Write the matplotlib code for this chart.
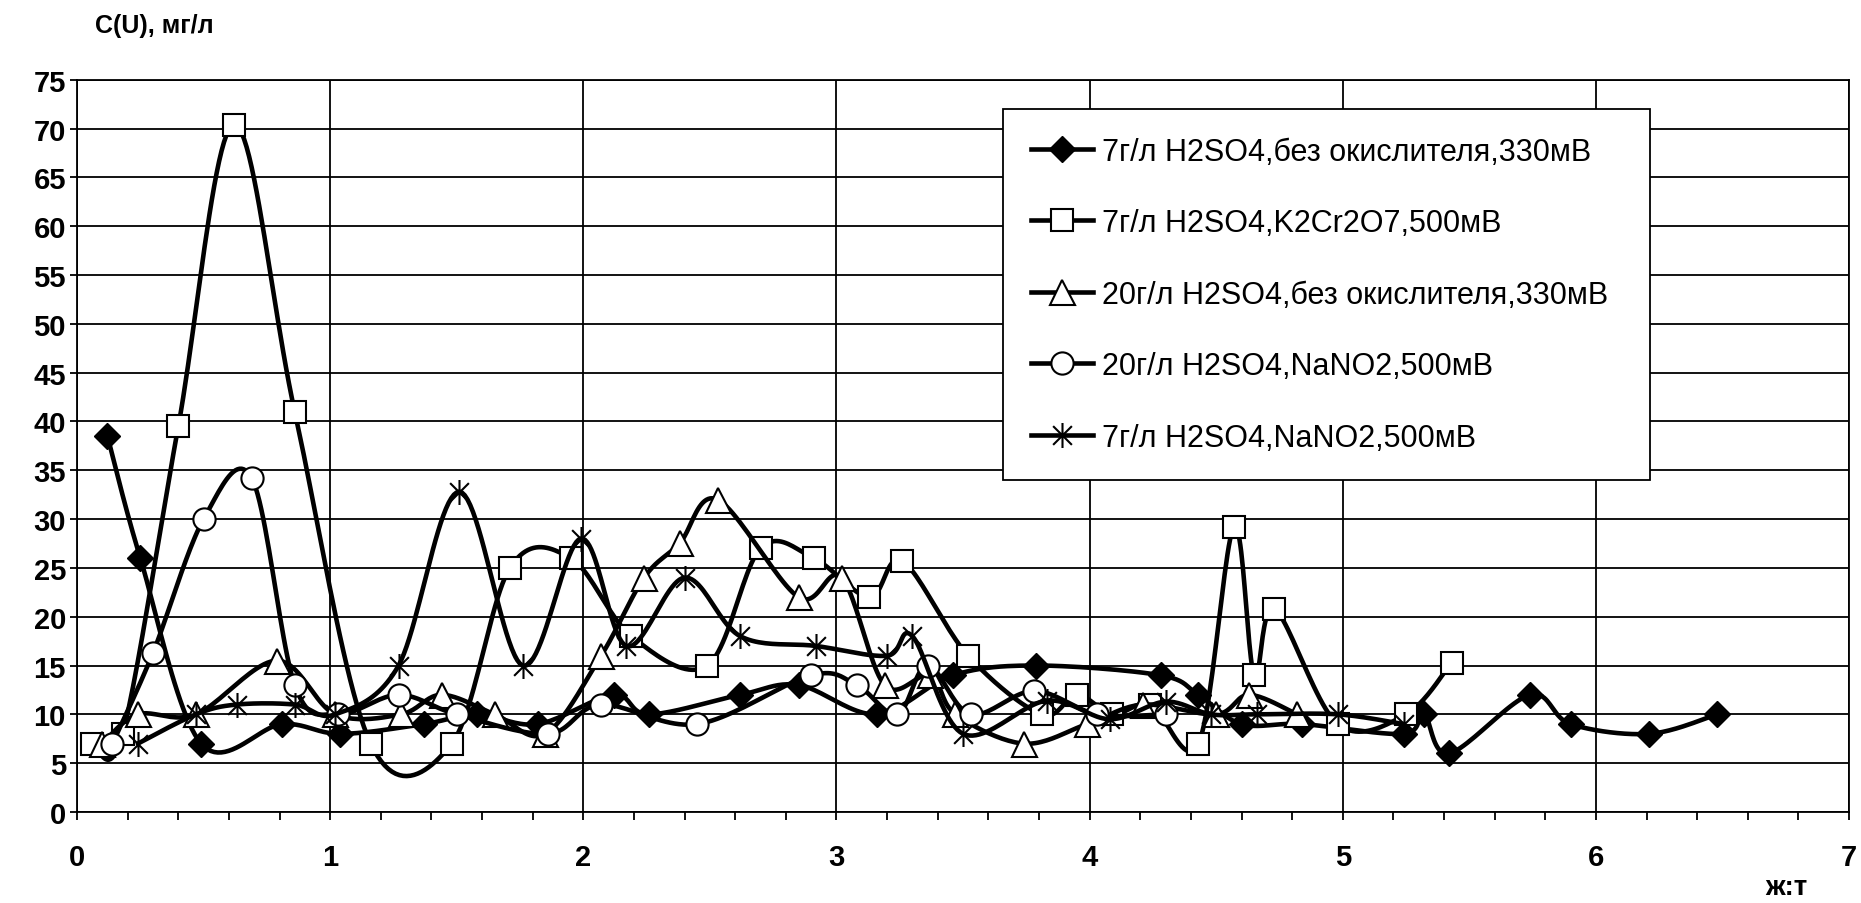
import numpy as np
import matplotlib
matplotlib.use("Agg")
import matplotlib.pyplot as plt
from matplotlib.path import Path
from matplotlib.lines import Line2D
from matplotlib.ticker import MultipleLocator

plt.rcParams['font.family'] = ['Liberation Sans', 'DejaVu Sans']

# данные
x1 = [0.12, 0.25, 0.49, 0.81, 1.04, 1.37, 1.58, 1.82, 2.12, 2.26, 2.62, 2.85, 3.16,
      3.46, 3.79, 4.28, 4.43, 4.60, 4.84, 5.24, 5.32, 5.42, 5.74, 5.90, 6.21, 6.48]
y1 = [38.5, 26, 7, 9, 8, 9, 10, 9, 12, 10, 12, 13, 10,
      14, 15, 14, 12, 9, 9, 8, 10, 6, 12, 9, 8, 10]

x2 = [0.06, 0.18, 0.40, 0.62, 0.86, 1.16, 1.48, 1.71, 1.95, 2.19, 2.49, 2.70, 2.91, 3.13,
      3.26, 3.52, 3.81, 3.95, 4.09, 4.24, 4.43, 4.57, 4.65, 4.73, 4.98, 5.25, 5.43]
y2 = [7, 8, 39.5, 70.4, 41, 7, 7, 25, 26, 18, 15, 27, 26, 22,
      25.7, 16, 10, 12, 10, 11, 7, 29.2, 14, 20.8, 9, 10, 15.3]

x3 = [0.10, 0.24, 0.47, 0.79, 1.02, 1.28, 1.44, 1.65, 1.85, 2.07, 2.24, 2.38, 2.53, 2.85,
      3.02, 3.19, 3.37, 3.47, 3.74, 3.99, 4.21, 4.50, 4.63, 4.82]
y3 = [7, 10, 10, 15.5, 10, 10, 12, 10, 8, 16, 24, 27.5, 32, 22,
      24, 13, 14, 10, 7, 9, 11, 10, 12, 10]

x4 = [0.14, 0.30, 0.50, 0.69, 0.86, 1.03, 1.27, 1.50, 1.86, 2.07, 2.45, 2.90, 3.08, 3.24,
      3.36, 3.53, 3.78, 4.03, 4.30]
y4 = [7, 16.3, 30, 34.2, 13, 10, 12, 10, 8, 11, 9, 14, 13, 10,
      15, 10, 12.4, 10, 10]

x5 = [0.24, 0.47, 0.63, 0.86, 1.02, 1.27, 1.51, 1.76, 1.99, 2.17, 2.40, 2.62, 2.92, 3.20,
      3.30, 3.50, 3.83, 4.08, 4.30, 4.48, 4.66, 4.98, 5.24]
y5 = [7, 10, 11, 11, 10, 15, 32.8, 15, 28, 17, 24, 18, 17, 16,
      18, 8, 11.4, 9.5, 11.3, 10, 10, 10, 9]

labels = ["7г/л H2SO4,без окислителя,330мВ",
          "7г/л H2SO4,K2Cr2O7,500мВ",
          "20г/л H2SO4,без окислителя,330мВ",
          "20г/л H2SO4,NaNO2,500мВ",
          "7г/л H2SO4,NaNO2,500мВ"]

# звёздочка как в Excel: крест + вертикаль
star = Path([(0, -1), (0, 1), (-0.75, -0.75), (0.75, 0.75), (-0.75, 0.75), (0.75, -0.75)],
            [Path.MOVETO, Path.LINETO, Path.MOVETO, Path.LINETO, Path.MOVETO, Path.LINETO])

styles = [
    dict(marker='D', ms=13, mfc='black', mec='black', mew=1),
    dict(marker='s', ms=16, mfc='white', mec='black', mew=1.5),
    dict(marker='^', ms=18, mfc='white', mec='black', mew=1.5),
    dict(marker='o', ms=16, mfc='white', mec='black', mew=1.5),
    dict(marker=star, ms=18, mfc='none', mec='black', mew=1.5),
]

# сглаживание как в Excel (Catmull-Rom в экранных координатах)
SX = 1772 / 7.0
SY = 732.3 / 75.0


def smooth(xs, ys, n=24):
    p = np.column_stack([np.array(xs) * SX, np.array(ys) * SY])
    pts = np.vstack([p[0], p, p[-1]])
    out = [p[0]]
    t = np.linspace(0, 1, n)[1:, None]
    for i in range(1, len(pts) - 2):
        p0, p1, p2, p3 = pts[i - 1], pts[i], pts[i + 1], pts[i + 2]
        b1 = p1 + (p2 - p0) / 6.0
        b2 = p2 - (p3 - p1) / 6.0
        seg = ((1 - t) ** 3) * p1 + 3 * ((1 - t) ** 2) * t * b1 + 3 * (1 - t) * t ** 2 * b2 + t ** 3 * p2
        out.extend(seg)
    out = np.array(out)
    return out[:, 0] / SX, out[:, 1] / SY


fig = plt.figure(figsize=(18.61, 9.04), dpi=100)
ax = fig.add_axes([0.0414, 0.1007, 0.9522, 0.81])

series = [(x1, y1), (x2, y2), (x3, y3), (x4, y4), (x5, y5)]
handles = []
for k, ((xs, ys), st) in enumerate(zip(series, styles)):
    sx, sy = smooth(xs, ys)
    ax.plot(sx, sy, color='black', lw=3.3, zorder=3 + k, solid_capstyle='round')
    ax.plot(xs, ys, linestyle='none', zorder=3 + k, **st)
    handles.append(Line2D([], [], color='black', lw=3.3, **st))

ax.set_xlim(0, 7)
ax.set_ylim(0, 75)
ax.xaxis.set_major_locator(MultipleLocator(1))
ax.xaxis.set_minor_locator(MultipleLocator(0.2))
ax.yaxis.set_major_locator(MultipleLocator(5))
ax.grid(True, which='major', color='black', lw=1.3)
ax.set_axisbelow(True)
for s in ax.spines.values():
    s.set_linewidth(1.3)

ax.tick_params(axis='x', which='major', direction='out', length=6, width=1.3, pad=16, labelsize=21)
ax.tick_params(axis='x', which='minor', direction='out', length=6, width=1.3)
ax.tick_params(axis='y', which='major', direction='out', length=5, width=1.3, pad=3, labelsize=21)
for lab in ax.get_xticklabels() + ax.get_yticklabels():
    lab.set_fontweight('bold')

leg = ax.legend(handles, labels, loc='upper left', bbox_to_anchor=(0.5226, 0.452, 0.3651, 0.508),
                mode='expand', borderaxespad=0, fontsize=22, labelspacing=1.36, borderpad=0.9,
                handlelength=2.05, handletextpad=0.3, fancybox=False, framealpha=1,
                edgecolor='black')
leg.get_frame().set_linewidth(1.3)
leg.set_zorder(20)

fig.text(0.051, 0.971, "C(U), мг/л", fontsize=18, fontweight='bold', va='center', ha='left')
fig.text(0.96, 0.018, "ж:т", fontsize=20, fontweight='bold', va='center', ha='center')

fig.savefig("out.png", dpi=100)
